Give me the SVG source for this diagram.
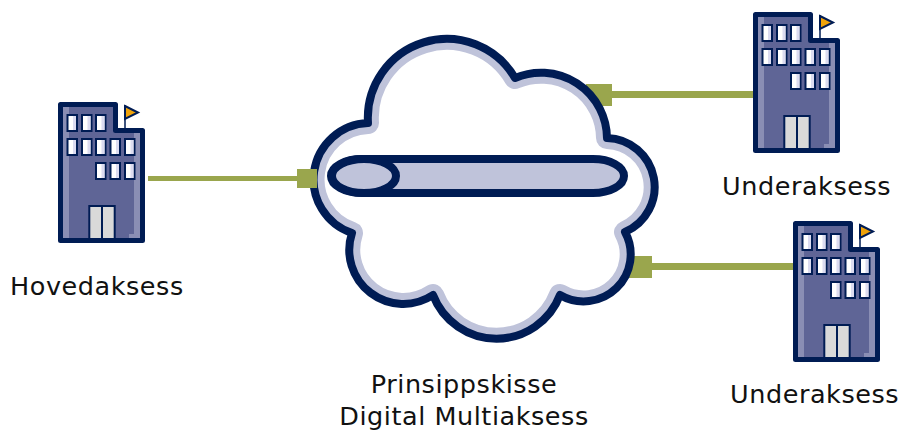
<svg xmlns="http://www.w3.org/2000/svg" width="902" height="430" viewBox="0 0 902 430">
<style>
text{font-family:"DejaVu Sans",Verdana,sans-serif;font-size:25.500px;letter-spacing:.55px;fill:#111}
.c{fill:#9aa64d;stroke:none}
.w{fill:#fff;stroke:#001c54;stroke-width:2}
.s{fill:#dcdcf0}
</style>
<defs>
<path id="cl" d="M368 123A79 79 0 0 1 515 78A66 66 0 0 1 607 138A49 49 0 0 1 625 232A47 47 0 0 1 560 295A68 68 0 0 1 433 295A54 54 0 0 1 352 233A56.500 56.500 0 0 1 368 123Z"/>
<clipPath id="ci"><use href="#cl"/></clipPath>
<g id="win"><rect class="w" x="0" y="0" width="9.500" height="16"/><rect class="s" x="5.500" y="1" width="3" height="14"/></g>
<g id="b">
<path d="M60.500 104.500H115.500V130.500H142.500V240.500H60.500Z" fill="#5f6596" stroke="#001c54" stroke-width="5" stroke-linejoin="round"/>
<path d="M63 107H69V238H63ZM134 133H140V238H129V234H134Z" fill="#8a8eb4"/>
<path d="M125 105V130" stroke="#001c54" stroke-width="1.500" fill="none"/>
<path d="M125 106L138 112.500L125 119Z" fill="#f0a30a" stroke="#001c54" stroke-width="2"/>
<use href="#win" x="67.500" y="115"/><use href="#win" x="82" y="115"/><use href="#win" x="96" y="115"/>
<use href="#win" x="67.500" y="139"/><use href="#win" x="82" y="139"/><use href="#win" x="96" y="139"/><use href="#win" x="110.500" y="139"/><use href="#win" x="125" y="139"/>
<use href="#win" x="96" y="163"/><use href="#win" x="110.500" y="163"/><use href="#win" x="125" y="163"/>
<rect x="89.300" y="206" width="25.400" height="33" fill="#d9d9d9" stroke="#001c54" stroke-width="2"/>
<path d="M102 206V239" stroke="#001c54" stroke-width="2"/>
</g>
</defs>
<g id="connectors-behind">
<rect class="c" x="612" y="91" width="142" height="7"/><rect class="c" x="586" y="84" width="26" height="22"/>
<rect class="c" x="652" y="263" width="141" height="7"/><rect class="c" x="620" y="256" width="32" height="22"/>
</g>
<g id="cloud">
<use href="#cl" fill="#fff"/>
<g clip-path="url(#ci)"><use href="#cl" fill="none" stroke="#bfc3da" stroke-width="22" stroke-linejoin="round"/></g>
<use href="#cl" fill="none" stroke="#001c54" stroke-width="8" stroke-linejoin="round"/>
</g>
<g id="connectors-front">
<rect class="c" x="148" y="176" width="150" height="5"/><rect class="c" x="297" y="169" width="20" height="19"/>
</g>
<g id="pipe">
<rect x="331" y="159" width="293" height="34" rx="31" ry="17" fill="#bfc3da" stroke="#001c54" stroke-width="8"/>
<ellipse cx="364" cy="176" rx="32" ry="17" fill="#bfc3da" stroke="#001c54" stroke-width="8"/>
</g>
<g id="hoved"><use href="#b"/><text x="10" y="295">Hovedaksess</text></g>
<g id="under1"><use href="#b" x="695" y="-90"/><text x="722" y="195">Underaksess</text></g>
<g id="under2"><use href="#b" x="735" y="119"/><text x="730" y="403">Underaksess</text></g>
<g id="label"><text x="464" y="393" text-anchor="middle">Prinsippskisse</text><text x="464" y="425" text-anchor="middle">Digital Multiaksess</text></g>
</svg>
